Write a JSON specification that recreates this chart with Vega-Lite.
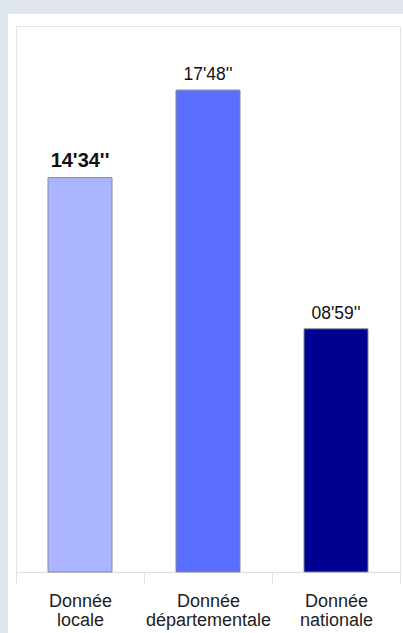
{
  "$schema": "https://vega.github.io/schema/vega-lite/v6.json",
  "width": 395,
  "height": 619,
  "autosize": {"type": "none"},
  "padding": {"left": 8, "top": 14, "right": 0, "bottom": 0},
  "background": "#dfe6ef",
  "config": {"view": {"fill": "white", "stroke": null}, "font": "Liberation Sans"},
  "data": {
    "values": [
      {"cat": "Donnée locale", "secs": 874, "label": "14'34''"},
      {"cat": "Donnée départementale", "secs": 1068, "label": "17'48''"},
      {"cat": "Donnée nationale", "secs": 539, "label": "08'59''"}
    ]
  },
  "layer": [
    {
      "mark": {"type": "bar", "stroke": "#8a8a9a", "strokeWidth": 1, "width": {"band": 0.5}},
      "encoding": {
        "x": {
          "field": "cat", "type": "nominal", "sort": null,
          "scale": {"range": [8, 392], "paddingInner": 0, "paddingOuter": 0},
          "axis": {
            "orient": "bottom", "offset": -61, "title": null, "tickBand": "extent",
            "tickSize": 11, "tickColor": "#e0e0e0", "domainColor": "#e0e0e0",
            "labelAngle": 0, "labelFontSize": 18, "labelColor": "#222222",
            "labelExpr": "split(datum.label, ' ')", "labelLineHeight": 19,
            "labelPadding": 9, "labelBaseline": "top", "grid": false
          }
        },
        "y": {
          "field": "secs", "type": "quantitative",
          "scale": {"domain": [0, 1210], "range": [558, 12], "nice": false},
          "axis": {"orient": "left", "offset": -8, "title": null, "labels": false, "ticks": false, "grid": false, "domainColor": "#e4e4e4"}
        },
        "color": {
          "field": "cat", "type": "nominal", "sort": null,
          "scale": {"domain": ["Donnée locale", "Donnée départementale", "Donnée nationale"], "range": ["#aab4ff", "#5a6fff", "#000090"]},
          "legend": null
        }
      }
    },
    {
      "transform": [{"filter": "datum.cat != 'Donnée locale'"}],
      "mark": {"type": "text", "baseline": "alphabetic", "dy": -10, "fontSize": 17.5, "color": "#111111"},
      "encoding": {
        "x": {
          "field": "cat", "type": "nominal", "sort": null,
          "scale": {"range": [8, 392], "paddingInner": 0, "paddingOuter": 0},
          "axis": {"orient": "top", "offset": -12, "title": null, "labels": false, "ticks": false, "grid": false, "domainColor": "#e4e4e4"}
        },
        "y": {
          "field": "secs", "type": "quantitative",
          "scale": {"domain": [0, 1210], "range": [558, 12], "nice": false},
          "axis": {"orient": "right", "offset": -3, "title": null, "labels": false, "ticks": false, "grid": false, "domainColor": "#e4e4e4"}
        },
        "text": {"field": "label"}
      }
    },
    {
      "transform": [{"filter": "datum.cat == 'Donnée locale'"}],
      "mark": {"type": "text", "baseline": "alphabetic", "dy": -11, "fontSize": 20, "fontWeight": "bold", "color": "#111111"},
      "encoding": {
        "x": {
          "field": "cat", "type": "nominal", "sort": null,
          "scale": {"range": [8, 392], "paddingInner": 0, "paddingOuter": 0},
          "axis": null
        },
        "y": {
          "field": "secs", "type": "quantitative",
          "scale": {"domain": [0, 1210], "range": [558, 12], "nice": false},
          "axis": null
        },
        "text": {"field": "label"}
      }
    }
  ],
  "resolve": {"axis": {"x": "independent", "y": "independent"}}
}
